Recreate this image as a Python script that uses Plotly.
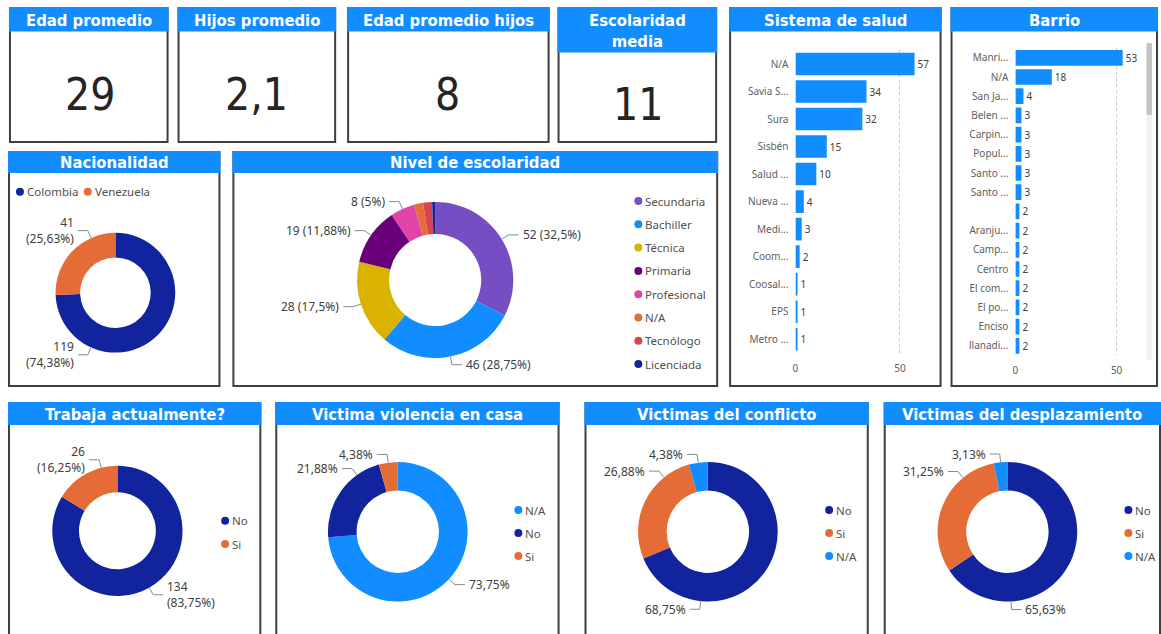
import math
from decimal import Decimal, ROUND_HALF_UP
import plotly.graph_objects as go

W, H = 1161, 634

# ---------------- data ----------------
kpi_titles = ["Edad promedio", "Hijos promedio", "Edad promedio hijos", "Escolaridad<br>media"]
kpi_values = ["29", "2,1", "8", "11"]

salud_labels = ["N/A", "Savia S...", "Sura", "Sisbén", "Salud ...", "Nueva ...",
                "Medi...", "Coom...", "Coosal...", "EPS", "Metro ..."]
salud_values = [57, 34, 32, 15, 10, 4, 3, 2, 1, 1, 1]

barrio_labels = ["Manri...", "N/A", "San Ja...", "Belen ...", "Carpin...", "Popul...",
                 "Santo ...", "Santo ...", "", "Aranju...", "Camp...", "Centro",
                 "El com...", "El po...", "Enciso", "llanadi..."]
barrio_values = [53, 18, 4, 3, 3, 3, 3, 3, 2, 2, 2, 2, 2, 2, 2, 2]

nac_labels = ["Colombia", "Venezuela"]
nac_values = [119, 41]

esc_labels = ["Secundaria", "Bachiller", "Técnica", "Primaria", "Profesional",
              "N/A", "Tecnólogo", "Licenciada"]
esc_values = [52, 46, 28, 19, 8, 3, 3, 1]

trab_labels = ["No", "Si"]
trab_values = [134, 26]

viol_labels = ["N/A", "No", "Si"]
viol_values = [118, 35, 7]

conf_labels = ["No", "Si", "N/A"]
conf_values = [110, 43, 7]

desp_labels = ["No", "Si", "N/A"]
desp_values = [105, 50, 5]

# ---------------- styles ----------------
BLUE = "#118DFF"
DARK = "#12239E"
ORANGE = "#E66C37"
nac_colors = [DARK, ORANGE]
esc_colors = ["#744EC2", "#118DFF", "#D9B300", "#6B007B", "#E044A7", "#E66C37", "#D64550", "#12239E"]
trab_colors = [DARK, ORANGE]
viol_colors = [BLUE, DARK, ORANGE]
conf_colors = [DARK, ORANGE, BLUE]
desp_colors = [DARK, ORANGE, BLUE]

TITLE_FONT = "'Liberation Sans Narrow', 'DejaVu Sans Condensed', 'Arial Narrow', sans-serif"
TEXT_FONT = "'Segoe UI', 'Noto Sans', 'Open Sans', sans-serif"
LABEL_COLOR = "#404040"
AXIS_COLOR = "#605E5C"
BORDER = "#3f3f3f"


def X(px):
    return px / W


def Y(py):
    return 1 - py / H


def pct_text(v, total):
    p = (Decimal(v) * Decimal(100) / Decimal(total)).quantize(Decimal("0.01"), rounding=ROUND_HALF_UP)
    s = format(p, "f").rstrip("0").rstrip(".")
    return s.replace(".", ",") + "%"


shapes = []
annotations = []

# ---------------- panels ----------------
panels = [
    dict(x0=7, x1=165, y0=8, y1=142, hb=31.5, title=kpi_titles[0], ty=20),
    dict(x0=176, x1=333, y0=8, y1=142, hb=31.5, title=kpi_titles[1], ty=20),
    dict(x0=346, x1=547, y0=8, y1=142, hb=31.5, title=kpi_titles[2], ty=20),
    dict(x0=557, x1=715, y0=8, y1=142, hb=52.5, title=kpi_titles[3], ty=30.5),
    dict(x0=729, x1=940, y0=8, y1=386, hb=31.5, title="Sistema de salud", ty=20),
    dict(x0=951, x1=1157, y0=8, y1=386, hb=31.5, title="Barrio", ty=20),
    dict(x0=6, x1=217, y0=152, y1=386, hb=173, title="Nacionalidad", ty=162.5),
    dict(x0=231, x1=716, y0=152, y1=386, hb=173, title="Nivel de escolaridad", ty=162.5),
    dict(x0=6, x1=258, y0=403, y1=645, hb=425, title="Trabaja actualmente?", ty=414),
    dict(x0=274, x1=557, y0=403, y1=645, hb=425, title="Victima violencia en casa", ty=414),
    dict(x0=584, x1=867, y0=403, y1=645, hb=425, title="Victimas del conflicto", ty=414),
    dict(x0=884, x1=1160, y0=403, y1=645, hb=425, title="Victimas del desplazamiento", ty=414),
]

for p in panels:
    shapes.append(dict(type="rect", xref="paper", yref="paper",
                       x0=X(p["x0"]), x1=X(p["x1"]), y0=Y(p["y1"]), y1=Y(p["y0"]),
                       line=dict(color=BORDER, width=2), fillcolor="rgba(0,0,0,0)", layer="above"))
    shapes.append(dict(type="rect", xref="paper", yref="paper",
                       x0=X(p["x0"] - 1), x1=X(p["x1"] + 1), y0=Y(p["hb"]), y1=Y(p["y0"] - 1),
                       line=dict(width=0), fillcolor=BLUE, layer="above"))
    annotations.append(dict(xref="paper", yref="paper", x=X((p["x0"] + p["x1"]) / 2), y=Y(p["ty"]),
                            text="<b>%s</b>" % p["title"], showarrow=False,
                            xanchor="center", yanchor="middle",
                            font=dict(family=TITLE_FONT, size=16.5, color="white")))

# KPI values
kpi_centers = [(87, 95), (254.5, 95), (446, 95), (637, 105)]
for (cx, cy), val in zip(kpi_centers, kpi_values):
    annotations.append(dict(xref="paper", yref="paper", x=X(cx), y=Y(cy), text=val,
                            showarrow=False, xanchor="center", yanchor="middle",
                            font=dict(family=TITLE_FONT, size=44, color="#252423")))

# Barrio scrollbar (visual decoration)
shapes.append(dict(type="rect", xref="paper", yref="paper", x0=X(1146.5), x1=X(1152),
                   y0=Y(360), y1=Y(43), fillcolor="#f1f1f1", line=dict(width=0), layer="above"))
shapes.append(dict(type="rect", xref="paper", yref="paper", x0=X(1146.5), x1=X(1152),
                   y0=Y(115), y1=Y(43), fillcolor="#c4c4c4", line=dict(width=0), layer="above"))

fig = go.Figure()

# ---------------- bar charts ----------------
bar_specs = [
    dict(labels=salud_labels, values=salud_values, ax="x", ay="y",
         xdom=(794.5, 930), scale=2.095, ydom=(50.25, 352.95)),
    dict(labels=barrio_labels, values=barrio_values, ax="x2", ay="y2",
         xdom=(1015, 1140), scale=2.03, ydom=(48.2, 355.4)),
]
for i, b in enumerate(bar_specs):
    n = len(b["values"])
    fig.add_trace(go.Bar(
        x=b["values"], y=list(range(n)), orientation="h",
        xaxis=b["ax"], yaxis=b["ay"], width=0.82,
        marker=dict(color=BLUE, line=dict(width=0)),
        text=[str(v) for v in b["values"]], textposition="outside",
        textfont=dict(family=TEXT_FONT, size=10, color=LABEL_COLOR),
        cliponaxis=False, showlegend=False, hoverinfo="x+y"))
    suffix = "" if i == 0 else str(i + 1)
    fig.layout["xaxis" + suffix] = dict(
        domain=[X(b["xdom"][0]), X(b["xdom"][1])],
        range=[0, (b["xdom"][1] - b["xdom"][0]) / b["scale"]],
        anchor=b["ay"], tick0=0, dtick=50, showgrid=True, gridcolor="#c8c8c8",
        griddash="dot", gridwidth=1, zeroline=False, showline=False, ticks="",
        ticklabelstandoff=8,
        tickfont=dict(family=TEXT_FONT, size=10, color=AXIS_COLOR), fixedrange=True)
    fig.layout["yaxis" + suffix] = dict(
        domain=[Y(b["ydom"][1]), Y(b["ydom"][0])],
        range=[n - 0.5, -0.5], anchor=b["ax"],
        tickvals=list(range(n)), ticktext=b["labels"], showgrid=False, zeroline=False,
        showline=False, ticks="", ticklabelstandoff=6,
        tickfont=dict(family=TEXT_FONT, size=10, color=AXIS_COLOR), fixedrange=True)

# ---------------- donuts ----------------
donuts = [
    dict(labels=nac_labels, values=nac_values, colors=nac_colors, cx=112.7, cy=292.7, r=60,
         fmt="two", angles=[204, 336], min_frac=0,
         legend=dict(kind="h", xs=[17, 85], y=191.7)),
    dict(labels=esc_labels, values=esc_values, colors=esc_colors, cx=433.3, cy=280, r=78.3,
         fmt="one", angles=None, min_frac=0.05,
         legend=dict(kind="v", x=637, y=201, step=23.3)),
    dict(labels=trab_labels, values=trab_values, colors=trab_colors, cx=114.7, cy=530.8, r=65.3,
         fmt="two", angles=[None, 345.6], min_frac=0,
         legend=dict(kind="v", x=222.7, y=520.7, step=23.3)),
    dict(labels=viol_labels, values=viol_values, colors=viol_colors, cx=395.8, cy=531.7, r=70,
         fmt="pct", angles=[None, 324, None], min_frac=0,
         legend=dict(kind="v", x=516.7, y=510, step=23)),
    dict(labels=conf_labels, values=conf_values, colors=conf_colors, cx=706.7, cy=531.7, r=70,
         fmt="pct", angles=[186, 321, None], min_frac=0,
         legend=dict(kind="v", x=828.3, y=510, step=23)),
    dict(labels=desp_labels, values=desp_values, colors=desp_colors, cx=1007, cy=531.7, r=70,
         fmt="pct", angles=[177, 320.5, None], min_frac=0,
         legend=dict(kind="v", x=1128.3, y=510, step=23)),
]

HOLE = 0.59
for d in donuts:
    cx, cy, r = d["cx"], d["cy"], d["r"]
    fig.add_trace(go.Pie(
        labels=d["labels"], values=d["values"], sort=False, direction="clockwise", rotation=0,
        hole=HOLE, textinfo="none", showlegend=False,
        marker=dict(colors=d["colors"], line=dict(width=0)),
        domain=dict(x=[X(cx - r), X(cx + r)], y=[Y(cy + r), Y(cy - r)])))

    total = sum(d["values"])
    cum = 0.0
    for i, (lab, v) in enumerate(zip(d["labels"], d["values"])):
        frac = v / total
        mid = (cum + frac / 2) * 360
        cum += frac
        if frac < d["min_frac"]:
            continue
        ang = mid
        if d["angles"] is not None and d["angles"][i] is not None:
            ang = d["angles"][i]
        t = math.radians(ang)
        dx, dy = math.sin(t), -math.cos(t)
        ax_, ay_ = cx + r * dx, cy + r * dy
        ex, ey = cx + (r + 8) * dx, cy + (r + 8) * dy
        side = 1 if dx >= 0 else -1
        hx = ex + side * 10
        shapes.append(dict(type="path", xref="paper", yref="paper",
                           path="M %f %f L %f %f L %f %f" % (X(ax_), Y(ay_), X(ex), Y(ey), X(hx), Y(ey)),
                           line=dict(color="#8a8a8a", width=1), layer="above"))
        pt = pct_text(v, total)
        if d["fmt"] == "two":
            txt = "%d<br>(%s)" % (v, pt)
        elif d["fmt"] == "one":
            txt = "%d (%s)" % (v, pt)
        else:
            txt = pt
        annotations.append(dict(xref="paper", yref="paper", x=X(hx + side * 2), y=Y(ey),
                                text=txt, showarrow=False,
                                xanchor="left" if side > 0 else "right", yanchor="middle",
                                align="left" if side > 0 else "right",
                                font=dict(family=TEXT_FONT, size=12, color=LABEL_COLOR)))

    lg = d["legend"]
    for i, (lab, col) in enumerate(zip(d["labels"], d["colors"])):
        if lg["kind"] == "h":
            lx, ly = lg["xs"][i], lg["y"]
        else:
            lx, ly = lg["x"], lg["y"] + i * lg["step"]
        shapes.append(dict(type="circle", xref="paper", yref="paper",
                           x0=X(lx - 4), x1=X(lx + 4), y0=Y(ly + 4), y1=Y(ly - 4),
                           fillcolor=col, line=dict(width=0), layer="above"))
        annotations.append(dict(xref="paper", yref="paper", x=X(lx + 5), y=Y(ly),
                                text=lab, showarrow=False, xanchor="left", yanchor="middle",
                                font=dict(family=TEXT_FONT, size=11.5, color="#505050")))

fig.update_layout(
    width=W, height=H, autosize=False,
    margin=dict(l=0, r=0, t=0, b=0, pad=0),
    paper_bgcolor="white", plot_bgcolor="rgba(0,0,0,0)",
    shapes=shapes, annotations=annotations,
    bargap=0.18, showlegend=False,
    font=dict(family=TEXT_FONT),
)

fig.write_html("out.html", config={"displayModeBar": False},
               post_script="document.body.style.margin='0px';")
